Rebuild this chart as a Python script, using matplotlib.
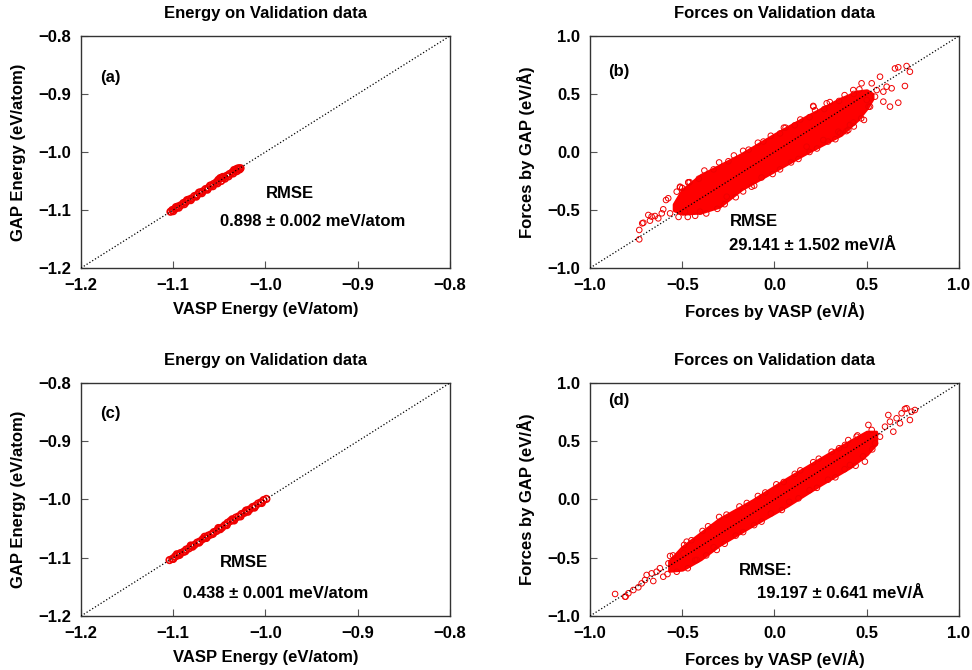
import matplotlib
matplotlib.use('Agg')
import matplotlib.pyplot as plt

plt.rcParams['font.family'] = ['Liberation Sans', 'DejaVu Sans']
plt.rcParams['font.weight'] = 'bold'
plt.rcParams['font.size'] = 12

# ---- data ----
# energy panels: VASP vs GAP (eV/atom)
a_vasp = [-1.103, -1.101, -1.098, -1.095, -1.092, -1.089, -1.086, -1.083, -1.080, -1.077,
          -1.074, -1.071, -1.068, -1.065, -1.062, -1.059, -1.056, -1.053, -1.051, -1.049,
          -1.047, -1.045, -1.042, -1.039, -1.036, -1.033, -1.031, -1.029, -1.028, -1.027,
          -1.100, -1.094, -1.088, -1.081, -1.075, -1.069, -1.063, -1.057, -1.052, -1.048,
          -1.044, -1.040, -1.035, -1.031, -1.097, -1.085, -1.072, -1.060, -1.046, -1.034]
a_gap = [-1.103, -1.100, -1.098, -1.094, -1.092, -1.088, -1.086, -1.082, -1.080, -1.076,
         -1.074, -1.070, -1.068, -1.064, -1.062, -1.058, -1.055, -1.052, -1.048, -1.045,
         -1.044, -1.044, -1.041, -1.038, -1.035, -1.032, -1.029, -1.028, -1.030, -1.028,
         -1.102, -1.096, -1.090, -1.083, -1.077, -1.071, -1.065, -1.059, -1.054, -1.050,
         -1.046, -1.042, -1.037, -1.033, -1.095, -1.083, -1.070, -1.058, -1.043, -1.031]

c_vasp = [-1.104, -1.101, -1.098, -1.095, -1.092, -1.089, -1.086, -1.083, -1.080, -1.077,
          -1.074, -1.071, -1.068, -1.065, -1.062, -1.059, -1.056, -1.053, -1.050, -1.047,
          -1.044, -1.041, -1.038, -1.035, -1.032, -1.029, -1.026, -1.023, -1.020, -1.017,
          -1.014, -1.011, -1.008, -1.005, -1.002, -0.999,
          -1.100, -1.093, -1.087, -1.079, -1.072, -1.064, -1.057, -1.049, -1.042, -1.034,
          -1.027, -1.019, -1.012, -1.004, -1.096, -1.081, -1.066, -1.051, -1.036, -1.021]
c_gap = [-1.104, -1.102, -1.098, -1.096, -1.092, -1.090, -1.086, -1.084, -1.080, -1.078,
         -1.074, -1.072, -1.068, -1.066, -1.062, -1.060, -1.056, -1.054, -1.050, -1.048,
         -1.044, -1.040, -1.037, -1.035, -1.031, -1.029, -1.025, -1.023, -1.019, -1.017,
         -1.013, -1.011, -1.007, -1.005, -1.001, -0.999,
         -1.102, -1.095, -1.089, -1.081, -1.074, -1.066, -1.059, -1.051, -1.044, -1.036,
         -1.029, -1.021, -1.014, -1.006, -1.094, -1.079, -1.064, -1.049, -1.034, -1.019]

# force panels: dense core outline (x, lower, upper)
b_core_x = [-0.545, -0.50, -0.40, -0.30, -0.18, 0.00, 0.18, 0.36, 0.45, 0.50, 0.53]
b_core_lo = [-0.50, -0.53, -0.52, -0.47, -0.32, -0.16, 0.00, 0.15, 0.28, 0.38, 0.46]
b_core_hi = [-0.45, -0.33, -0.20, -0.12, -0.02, 0.15, 0.31, 0.46, 0.52, 0.53, 0.50]
# force panels: single circles (stray points and ragged edge of the cloud)
b_pts_x = [-0.733, -0.711, -0.733, -0.717, -0.684, -0.666, -0.648, -0.630, -0.611, -0.603,
           -0.588, -0.576, -0.530, -0.512, -0.467, -0.566, -0.485, -0.404, -0.675, -0.512,
           -0.467, -0.259, -0.124, 0.051, 0.21, 0.346, 0.427,
           0.653, 0.671, 0.716, 0.734, 0.707, 0.671, 0.626, 0.590, 0.572, 0.527, 0.472,
           0.608, 0.635, 0.590, 0.554, 0.485, 0.400, 0.409, 0.355, 0.211, 0.283, 0.427,
           0.174, 0.265, 0.50, 0.518, 0.545,
           -0.50, -0.46, -0.41, -0.38, -0.33, -0.30, -0.25, -0.22, -0.17, -0.14, -0.09, -0.06,
           -0.02, 0.03, 0.06, 0.11, 0.14, 0.19, 0.22, 0.27, 0.30, 0.35, 0.38, 0.43, 0.46,
           -0.52, -0.47, -0.43, -0.37, -0.31, -0.27, -0.21, -0.17, -0.11, -0.07, -0.01, 0.03,
           0.09, 0.13, 0.19, 0.23, 0.29, 0.33, 0.39, 0.43, 0.47, 0.51]
b_pts_y = [-0.753, -0.610, -0.672, -0.615, -0.543, -0.557, -0.552, -0.572, -0.529, -0.494,
           -0.414, -0.399, -0.342, -0.299, -0.261, -0.529, -0.514, -0.514, -0.592, -0.305,
           -0.264, -0.385, -0.299, 0.21, 0.397, 0.175, 0.253,
           0.720, 0.730, 0.741, 0.692, 0.569, 0.425, 0.391, 0.434, 0.649, 0.592, 0.592,
           0.563, 0.549, 0.520, 0.534, 0.276, 0.190, 0.233, 0.161, 0.391, 0.420, 0.534,
           0.046, 0.103, 0.448, 0.391, 0.477,
           -0.31, -0.26, -0.23, -0.16, -0.15, -0.09, -0.08, -0.03, 0.01, 0.02, 0.08, 0.09,
           0.14, 0.16, 0.21, 0.23, 0.28, 0.30, 0.36, 0.37, 0.43, 0.44, 0.49, 0.50, 0.54,
           -0.56, -0.56, -0.55, -0.53, -0.49, -0.45, -0.39, -0.34, -0.29, -0.22, -0.19, -0.15,
           -0.09, -0.06, 0.00, 0.03, 0.09, 0.11, 0.18, 0.22, 0.29, 0.39]

d_core_x = [-0.57, -0.50, -0.40, -0.30, -0.12, 0.07, 0.25, 0.41, 0.50, 0.55]
d_core_lo = [-0.61, -0.60, -0.51, -0.39, -0.22, -0.05, 0.13, 0.28, 0.39, 0.48]
d_core_hi = [-0.53, -0.41, -0.29, -0.17, -0.01, 0.18, 0.35, 0.50, 0.58, 0.58]
d_pts_x = [-0.864, -0.807, -0.810, -0.792, -0.765, -0.738, -0.720, -0.702, -0.693, -0.666,
           -0.657, -0.639, -0.621, -0.603, -0.566, -0.575, -0.494, -0.476, -0.421, -0.313,
           0.716, 0.761, 0.689, 0.662, 0.626, 0.599, 0.509, 0.527, 0.644, 0.572, 0.445,
           0.382, 0.490, 0.409, 0.545, 0.680, 0.617, 0.734, 0.743, 0.707,
           -0.55, -0.49, -0.45, -0.39, -0.36, -0.30, -0.26, -0.19, -0.15, -0.09, -0.05, 0.01,
           0.05, 0.11, 0.14, 0.21, 0.24, 0.31, 0.35, 0.40, 0.45,
           -0.58, -0.53, -0.47, -0.43, -0.37, -0.33, -0.27, -0.21, -0.17, -0.11, -0.07, -0.02,
           0.04, 0.08, 0.13, 0.19, 0.23, 0.29, 0.33, 0.38, 0.44, 0.48, 0.53]
d_pts_y = [-0.811, -0.834, -0.834, -0.805, -0.777, -0.754, -0.720, -0.691, -0.648, -0.634,
           -0.700, -0.620, -0.590, -0.663, -0.485, -0.548, -0.462, -0.362, -0.519, -0.433,
           0.783, 0.768, 0.740, 0.697, 0.668, 0.625, 0.640, 0.597, 0.582, 0.539, 0.539,
           0.468, 0.325, 0.296, 0.482, 0.654, 0.725, 0.682, 0.754, 0.777,
           -0.48, -0.39, -0.35, -0.27, -0.23, -0.15, -0.13, -0.06, -0.03, 0.03, 0.06, 0.13,
           0.15, 0.22, 0.25, 0.32, 0.35, 0.41, 0.44, 0.51, 0.55,
           -0.64, -0.62, -0.59, -0.52, -0.48, -0.41, -0.38, -0.31, -0.28, -0.22, -0.19, -0.12,
           -0.09, -0.02, 0.01, 0.08, 0.10, 0.17, 0.19, 0.26, 0.29, 0.37, 0.43]

energy_ticks = [-1.2, -1.1, -1.0, -0.9, -0.8]
energy_labels = ['\u22121.2', '\u22121.1', '\u22121.0', '\u22120.9', '\u22120.8']
force_ticks = [-1.0, -0.5, 0.0, 0.5, 1.0]
force_labels = ['\u22121.0', '\u22120.5', '0.0', '0.5', '1.0']

red = '#ff0000'

fig = plt.figure(figsize=(9.72, 6.70), dpi=100)
ax_a = fig.add_axes([0.0833, 0.600, 0.3796, 0.3463])
ax_b = fig.add_axes([0.6070, 0.600, 0.3796, 0.3463])
ax_c = fig.add_axes([0.0833, 0.0806, 0.3796, 0.3478])
ax_d = fig.add_axes([0.6070, 0.0806, 0.3796, 0.3478])


def style(ax, ticks, labels, title, xlabel, ylabel):
    lo, hi = ticks[0], ticks[-1]
    ax.plot([lo, hi], [lo, hi], ls=':', color='black', lw=0.9, zorder=5)
    ax.set_xlim(lo, hi)
    ax.set_ylim(lo, hi)
    ax.set_xticks(ticks)
    ax.set_xticklabels(labels)
    ax.set_yticks(ticks)
    ax.set_yticklabels(labels)
    ax.tick_params(direction='in', length=5, width=0.8, color='#555555', pad=7)
    for s in ax.spines.values():
        s.set_color('#333333')
        s.set_linewidth(1.0)
    ax.set_title(title, fontsize=12, fontweight='bold', pad=13)
    ax.set_xlabel(xlabel, fontsize=12, fontweight='bold', labelpad=7)
    ax.set_ylabel(ylabel, fontsize=12, fontweight='bold', labelpad=9)


def scat(ax, x, y, s=16, lw=0.7):
    ax.scatter(x, y, s=s, facecolors='none', edgecolors='#f00000', linewidths=lw, zorder=3)


# (a)
scat(ax_a, a_vasp, a_gap, s=22, lw=1.2)
style(ax_a, energy_ticks, energy_labels, 'Energy on Validation data',
      'VASP Energy (eV/atom)', 'GAP Energy (eV/atom)')
ax_a.text(0.079, 0.82, '(a)', transform=ax_a.transAxes, ha='center', va='center')
ax_a.text(0.566, 0.322, 'RMSE', transform=ax_a.transAxes, ha='center', va='center')
ax_a.text(0.627, 0.20, '0.898 \u00b1 0.002 meV/atom', transform=ax_a.transAxes,
          ha='center', va='center')

# (b)
ax_b.fill_between(b_core_x, b_core_lo, b_core_hi, color=red, lw=2.5, edgecolor=red, zorder=2)
scat(ax_b, b_pts_x, b_pts_y)
style(ax_b, force_ticks, force_labels, 'Forces on Validation data',
      'Forces by VASP (eV/\u00c5)', 'Forces by GAP (eV/\u00c5)')
ax_b.text(0.079, 0.846, '(b)', transform=ax_b.transAxes, ha='center', va='center')
ax_b.text(0.378, 0.20, 'RMSE', transform=ax_b.transAxes, ha='left', va='center')
ax_b.text(0.378, 0.095, '29.141 \u00b1 1.502 meV/\u00c5', transform=ax_b.transAxes,
          ha='left', va='center')

# (c)
scat(ax_c, c_vasp, c_gap, s=22, lw=1.2)
style(ax_c, energy_ticks, energy_labels, 'Energy on Validation data',
      'VASP Energy (eV/atom)', 'GAP Energy (eV/atom)')
ax_c.text(0.079, 0.87, '(c)', transform=ax_c.transAxes, ha='center', va='center')
ax_c.text(0.442, 0.229, 'RMSE', transform=ax_c.transAxes, ha='center', va='center')
ax_c.text(0.528, 0.097, '0.438 \u00b1 0.001 meV/atom', transform=ax_c.transAxes,
          ha='center', va='center')

# (d)
ax_d.fill_between(d_core_x, d_core_lo, d_core_hi, color=red, lw=2.5, edgecolor=red, zorder=2)
scat(ax_d, d_pts_x, d_pts_y)
style(ax_d, force_ticks, force_labels, 'Forces on Validation data',
      'Forces by VASP (eV/\u00c5)', 'Forces by GAP (eV/\u00c5)')
ax_d.text(0.079, 0.923, '(d)', transform=ax_d.transAxes, ha='center', va='center')
ax_d.text(0.403, 0.197, 'RMSE:', transform=ax_d.transAxes, ha='left', va='center')
ax_d.text(0.452, 0.097, '19.197 \u00b1 0.641 meV/\u00c5', transform=ax_d.transAxes,
          ha='left', va='center')

fig.savefig('out.png', dpi=100)
